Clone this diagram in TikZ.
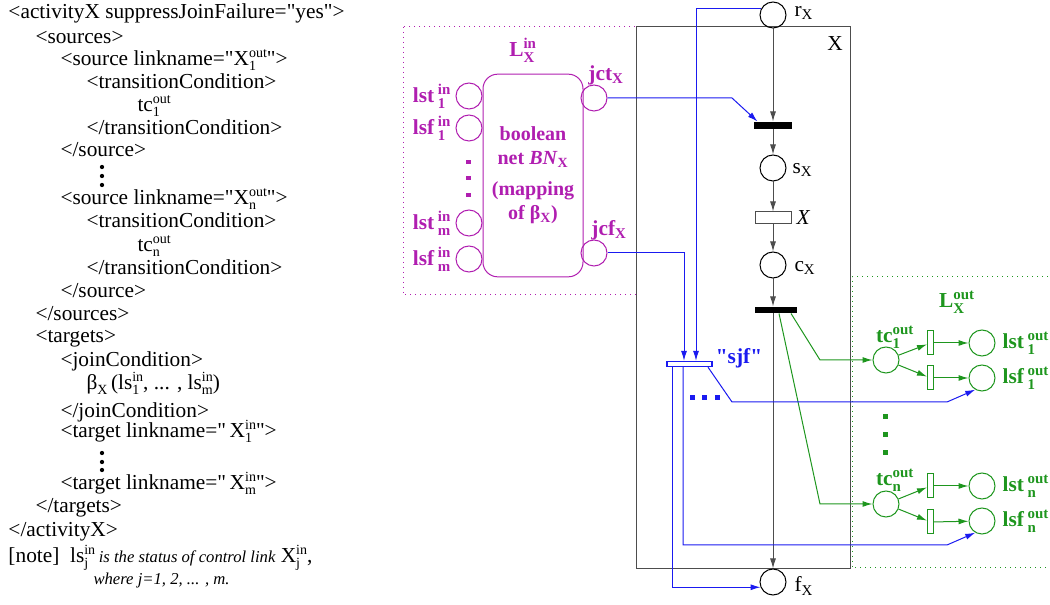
\documentclass[tikz,border=0pt]{standalone}
\usepackage{fontspec}
\setmainfont{Liberation Serif}[Ligatures=TeXOff]
\usepackage{tikz}
\usetikzlibrary{calc,positioning,arrows.meta}
\definecolor{linkblue}{HTML}{1A1AF0}
\definecolor{joinpurple}{HTML}{B01EB0}
\definecolor{outgreen}{HTML}{1E961E}
\definecolor{netgray}{HTML}{4D4D4D}
\newcommand{\scr}{\fontsize{10.5}{11}\selectfont}
\newcommand{\supsub}[2]{\rlap{\raisebox{-0.2em}{\scr #2}}\raisebox{0.4em}{\scr #1}}
\newcommand{\bsupsub}[2]{$^{\mathbf{#1}}_{\mathbf{#2}}$}

\begin{document}
\begin{tikzpicture}[x=0.75pt, y=-0.75pt, line width=0.75pt,
  font=\fontsize{16}{18}\selectfont,
  >={Latex[length=7.5pt,width=4.5pt]},
  xmlline/.style={anchor=base west, inner sep=0pt},
  sidelbl/.style={anchor=west, inner sep=0pt},
  placecirc/.style={circle, draw, minimum size=19.5pt, inner sep=0pt},
  blackbar/.style={draw=none, fill=black, inner sep=0pt},
  hollowbar/.style={draw, fill=white, inner sep=0pt},
  arcgray/.style={->, netgray},
  arcblue/.style={->, linkblue},
  arcgreen/.style={->, outgreen},
  inlbl/.style={joinpurple, font=\fontsize{16}{18}\selectfont\bfseries, inner sep=0pt},
  outlbl/.style={outgreen, font=\fontsize{16}{18}\selectfont\bfseries, inner sep=0pt}]
  \useasboundingbox (0,0) rectangle (1050,605);

  \node[xmlline] (act) at (8,19) {<activityX suppressJoinFailure="yes">};
  \node[xmlline] (srcs) at (35,44) {<sources>};
  \node[xmlline] (srcA) at (60,66) {<source linkname="X\supsub{out}{1}">};
  \node[xmlline] (condA) at (86,89) {<transitionCondition>};
  \node[xmlline] (tcAtxt) at (137,112) {tc\supsub{out}{1}};
  \node[xmlline] (condAend) at (86,135) {</transitionCondition>};
  \node[xmlline] (srcAend) at (60,157) {</source>};
  \node[xmlline] (srcN) at (60,205) {<source linkname="X\supsub{out}{n}">};
  \node[xmlline] (condN) at (86,228) {<transitionCondition>};
  \node[xmlline] (tcNtxt) at (137,252) {tc\supsub{out}{n}};
  \node[xmlline] (condNend) at (86,275) {</transitionCondition>};
  \node[xmlline] (srcNend) at (60,298) {</source>};
  \node[xmlline] (srcsend) at (35,321) {</sources>};
  \node[xmlline] (tgts) at (35,343) {<targets>};
  \node[xmlline] (join) at (60,367) {<joinCondition>};
  \node[xmlline] (beta) at (86,390) {β\raisebox{-0.2em}{\scr X}\,(ls\supsub{in}{1}, ... , ls\supsub{in}{m})};
  \node[xmlline] (joinend) at (60,418) {</joinCondition>};
  \node[xmlline] (tgtA) at (60,438) {<target linkname="\,X\supsub{in}{1}">};
  \node[xmlline] (tgtM) at (60,490) {<target linkname="\,X\supsub{in}{m}">};
  \node[xmlline] (tgtsend) at (35,513) {</targets>};
  \node[xmlline] (actend) at (8,537) {</activityX>};
  \node[xmlline] (note) at (8,563) {[note]\hspace{8pt}ls\supsub{in}{j}\,{\fontsize{12.5}{14}\selectfont\itshape is the status of control link} X\supsub{in}{j},};
  \node[xmlline] (notej) at (93,585) {\fontsize{12.5}{14}\selectfont\itshape where j=1, 2, ... , m.};
  \foreach \y in {167,176,185,453,462,470} \fill (102,\y) circle (1.6pt);

  \draw[joinpurple, dash pattern=on 0.75pt off 3pt] (403,27) rectangle (636,295);
  \draw[outgreen, dash pattern=on 0.75pt off 3pt] (1048,277) -- (852,277) -- (852,568) -- (1048,568);
  \draw[netgray] (636,27) rectangle (850,569);
  \node (boxX) at (835,44) {X};

  \node[placecirc] (rX) at (773,15) {};
  \node[placecirc] (sX) at (773,168) {};
  \node[placecirc] (cX) at (773,265) {};
  \node[placecirc] (fX) at (773,582) {};
  \node[blackbar, minimum width=28.5pt, minimum height=5.25pt] (tbeg) at (773,125.5) {};
  \node[hollowbar, draw=netgray, minimum width=27pt, minimum height=9pt] (tX) at (773,218) {};
  \node[blackbar, minimum width=31.5pt, minimum height=4.5pt] (tend) at (776,310) {};
  \node[sidelbl] (rXl) at (794,13) {r$_{\mathrm{X}}$};
  \node[sidelbl] (sXl) at (792,170) {s$_{\mathrm{X}}$};
  \node[sidelbl] (tXl) at (796,218) {\textit{X}};
  \node[sidelbl] (cXl) at (794,268) {c$_{\mathrm{X}}$};
  \node[sidelbl] (fXl) at (794,586) {f$_{\mathrm{X}}$};
  \draw[arcgray] (rX) -- (tbeg);
  \draw[arcgray] (tbeg) -- (sX);
  \draw[arcgray] (sX) -- (tX);
  \draw[arcgray] (tX) -- (cX);
  \draw[arcgray] (cX) -- (cX |- tend.north);
  \draw[arcgray] (tend.south -| fX) -- (fX);

  \node[inlbl] (Lin) at (523,50) {L\bsupsub{in}{X}};
  \node[draw=joinpurple, rounded corners=11pt, minimum width=75pt, minimum height=152pt, inlbl, font=\fontsize{15}{18}\selectfont\bfseries, align=center] (bn) at (533,175.5)
    {boolean\\ net \textit{BN}$_{\mathbf{X}}$\\[5pt] (mapping\\ of β$_{\mathbf{X}}$)};
  \node[placecirc, joinpurple] (lstA) at (469,96) {};
  \node[placecirc, joinpurple] (lsfA) at (469,128) {};
  \node[placecirc, joinpurple] (lstM) at (469,223) {};
  \node[placecirc, joinpurple] (lsfM) at (469,259) {};
  \node[placecirc, joinpurple] (jct) at (594,98) {};
  \node[placecirc, joinpurple] (jcf) at (594,253) {};
  \node[inlbl, left=3pt of lstA] (lstAl) {lst\,\bsupsub{in}{1}};
  \node[inlbl, left=3pt of lsfA] (lsfAl) {lsf\,\bsupsub{in}{1}};
  \node[inlbl, left=3pt of lstM] (lstMl) {lst\,\bsupsub{in}{m}};
  \node[inlbl, left=3pt of lsfM] (lsfMl) {lsf\,\bsupsub{in}{m}};
  \node[inlbl] (jctl) at (606,75) {jct$_{\mathbf{X}}$};
  \node[inlbl] (jcfl) at (609,230) {jcf$_{\mathbf{X}}$};
  \foreach \y in {162,178,195} \fill[joinpurple] (466,\y-2) rectangle ++(4.5,4.5);

  \node[outlbl] (Lout) at (957,302) {L\bsupsub{out}{X}};
  \node[placecirc, outgreen] (tcOne) at (886,360) {};
  \node[placecirc, outgreen] (tcN) at (886,504) {};
  \node[placecirc, outgreen] (lstOne) at (982,343) {};
  \node[placecirc, outgreen] (lsfOne) at (982,378) {};
  \node[placecirc, outgreen] (lstN) at (982,486) {};
  \node[placecirc, outgreen] (lsfN) at (982,521) {};
  \node[hollowbar, draw=outgreen, minimum width=4.5pt, minimum height=18pt] (ttOne) at (930.5,343) {};
  \node[hollowbar, draw=outgreen, minimum width=4.5pt, minimum height=18pt] (tfOne) at (930.5,378) {};
  \node[hollowbar, draw=outgreen, minimum width=4.5pt, minimum height=18pt] (ttN) at (930.5,486) {};
  \node[hollowbar, draw=outgreen, minimum width=4.5pt, minimum height=18pt] (tfN) at (930.5,522) {};
  \node[outlbl] (tcOnel) at (895,337) {tc\bsupsub{out}{1}};
  \node[outlbl] (tcNl) at (895,480) {tc\bsupsub{out}{n}};
  \node[outlbl, right=5pt of lstOne] (lstOnel) {lst\,\bsupsub{out}{1}};
  \node[outlbl, right=5pt of lsfOne] (lsfOnel) {lsf\,\bsupsub{out}{1}};
  \node[outlbl, right=5pt of lstN] (lstNl) {lst\,\bsupsub{out}{n}};
  \node[outlbl, right=5pt of lsfN] (lsfNl) {lsf\,\bsupsub{out}{n}};
  \foreach \y in {417,435,453} \fill[outgreen] (882.5,\y-2.5) rectangle ++(5,5);
  \draw[arcgreen] ($(tend.south)+(15,0)$) -- (820,360) -- (tcOne);
  \draw[arcgreen] ($(tend.south)+(3,0)$) -- (820,504) -- (tcN);
  \draw[arcgreen] (tcOne) -- (ttOne);
  \draw[arcgreen] (tcOne) -- (tfOne);
  \draw[arcgreen] (ttOne) -- (lstOne);
  \draw[arcgreen] (tfOne) -- (lsfOne);
  \draw[arcgreen] (tcN) -- (ttN);
  \draw[arcgreen] (tcN) -- (tfN);
  \draw[arcgreen] (ttN) -- (lstN);
  \draw[arcgreen] (tfN) -- (lsfN);

  \node[hollowbar, draw=linkblue, line width=1.2pt, minimum width=34pt, minimum height=3.5pt] (sjf) at (689.5,364) {};
  \node[linkblue, font=\fontsize{16}{18}\selectfont\bfseries, inner sep=0pt] (sjfl) at (739,358) {"sjf"};
  \foreach \x in {692,704,717} \fill[linkblue] (\x-2.5,395.5) rectangle ++(5,5);
  \draw[arcblue] (jct) -- (732,98) -- ($(tbeg.north west)+(4,0)$);
  \draw[arcblue] (rX.152) -| ($(sjf.north)+(6.5,0)$);
  \draw[arcblue] (jcf) -| ($(sjf.north)+(-5.5,0)$);
  \draw[arcblue] ($(sjf.south east)+(-5,0)$) -- (732,402) -- (947,402) -- (lsfOne.240);
  \draw[arcblue] ($(sjf.south)+(-17.5,0)$) |- (fX.203);
  \draw[arcblue] ($(sjf.south)+(-6.5,0)$) |- (947,545) -- (lsfN.240);
\end{tikzpicture}
\end{document}
